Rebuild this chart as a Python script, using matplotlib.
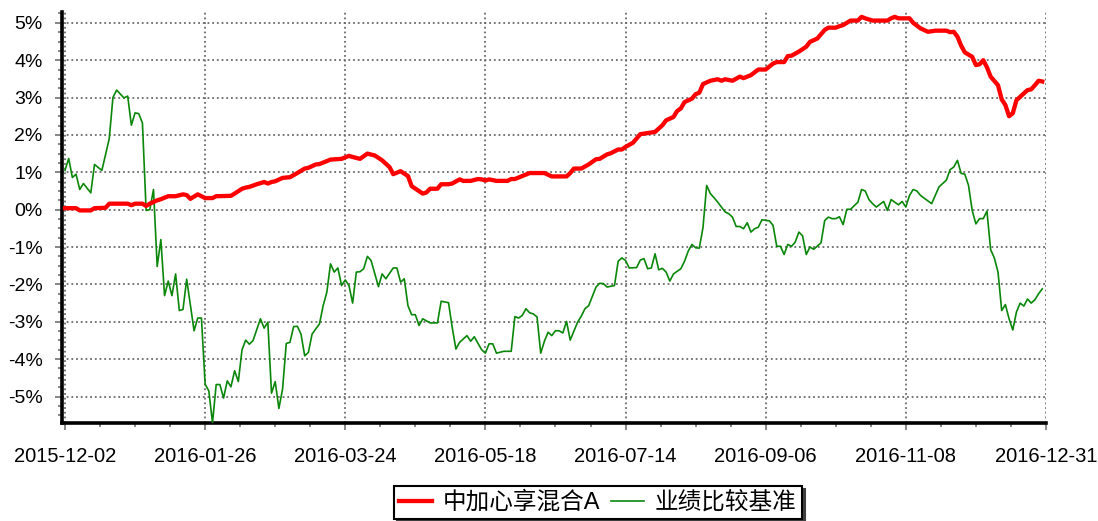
import numpy as np
import matplotlib
matplotlib.use("Agg")
import matplotlib.pyplot as plt
from matplotlib.ticker import FixedLocator, MultipleLocator, FuncFormatter

plt.rcParams["font.family"] = ["Liberation Sans", "Noto Sans CJK SC", "DejaVu Sans"]

# x axis is trading-day index, labels sit at evenly spaced trading days
tick_labels = ["2015-12-02", "2016-01-26", "2016-03-24", "2016-05-18",
               "2016-07-14", "2016-09-06", "2016-11-08", "2016-12-31"]
n_days = 267

fund_name = "中加心享混合A"
bench_name = "业绩比较基准"

# fund cumulative return (%)
fund_days = [0, 3, 4, 7, 8, 11, 12, 17, 18, 19, 21, 22, 23, 25, 26, 28, 30, 32, 33, 34,
             36, 38, 40, 41, 45, 46, 48, 49, 50, 52, 54, 55, 56, 57, 59, 61, 63, 65, 66, 68,
             69, 72, 75, 77, 78, 80, 82, 84, 86, 88, 89, 91, 93, 94, 97, 98, 99, 101, 102, 104,
             105, 107, 108, 110, 112, 113, 114, 115, 117, 120, 121, 122, 126, 130, 132, 136, 137, 138, 140, 142,
             144, 145, 147, 148, 150, 151, 152, 154, 156, 158, 160, 162, 163, 165, 166, 167, 168, 170, 171, 172,
             173, 175, 177, 178, 179, 181, 183, 184, 186, 188, 190, 192, 193, 195, 196, 197, 199, 201, 202, 204,
             206, 207, 209, 210, 211, 213, 215, 216, 217, 219, 223, 224, 225, 226, 229, 230, 232, 234, 236, 239,
             240, 241, 242, 243, 244, 246, 247, 248, 249, 250, 251, 253, 254, 255, 256, 257, 258, 260, 261, 262,
             263, 264, 265]
fund_ret = [0.04, 0.04, -0.02, -0.02, 0.04, 0.05, 0.16, 0.16, 0.12, 0.16, 0.16, 0.10, 0.16, 0.25, 0.28, 0.36, 0.36, 0.41, 0.39, 0.29,
            0.41, 0.31, 0.31, 0.36, 0.37, 0.43, 0.56, 0.59, 0.61, 0.68, 0.74, 0.70, 0.74, 0.76, 0.85, 0.87, 0.98, 1.10, 1.12, 1.21,
            1.22, 1.34, 1.36, 1.44, 1.41, 1.36, 1.50, 1.45, 1.32, 1.14, 0.95, 1.03, 0.90, 0.63, 0.43, 0.46, 0.56, 0.56, 0.68, 0.68,
            0.70, 0.81, 0.77, 0.77, 0.82, 0.81, 0.78, 0.81, 0.77, 0.77, 0.82, 0.82, 0.98, 0.98, 0.89, 0.89, 0.98, 1.10, 1.10, 1.21,
            1.35, 1.36, 1.48, 1.51, 1.61, 1.61, 1.68, 1.79, 2.02, 2.05, 2.08, 2.26, 2.39, 2.48, 2.64, 2.71, 2.88, 2.97, 3.09, 3.13,
            3.36, 3.45, 3.49, 3.45, 3.49, 3.45, 3.56, 3.52, 3.60, 3.75, 3.75, 3.91, 3.95, 3.95, 4.11, 4.12, 4.23, 4.36, 4.49, 4.58,
            4.81, 4.87, 4.87, 4.91, 4.94, 5.06, 5.06, 5.16, 5.12, 5.06, 5.06, 5.12, 5.16, 5.12, 5.12, 5.00, 4.85, 4.76, 4.79, 4.79,
            4.75, 4.76, 4.63, 4.39, 4.21, 4.09, 3.87, 3.89, 4.00, 3.81, 3.56, 3.33, 2.95, 2.80, 2.50, 2.58, 2.93, 3.11, 3.20, 3.22,
            3.33, 3.45, 3.43]

# benchmark cumulative return (%)
bench_days = [0, 1, 2, 3, 4, 5, 7, 8, 10, 12, 13, 14, 16, 17, 18, 19, 20, 21, 22, 23,
              24, 25, 26, 27, 28, 29, 30, 31, 32, 33, 35, 36, 37, 38, 39, 40, 41, 42, 43, 44,
              45, 46, 47, 48, 49, 50, 51, 53, 54, 55, 56, 57, 58, 59, 60, 61, 62, 63, 64, 65,
              66, 67, 68, 69, 70, 71, 72, 73, 74, 75, 76, 77, 78, 79, 80, 81, 82, 83, 85, 86,
              87, 89, 90, 91, 92, 93, 94, 95, 96, 97, 99, 101, 102, 104, 105, 106, 107, 109, 110, 111,
              112, 113, 114, 115, 116, 117, 119, 121, 122, 123, 124, 125, 126, 127, 128, 129, 130, 131, 132, 133,
              134, 135, 136, 137, 139, 140, 141, 142, 144, 145, 146, 147, 149, 150, 151, 152, 153, 155, 156, 157,
              158, 159, 160, 161, 162, 163, 164, 165, 167, 168, 169, 170, 171, 172, 173, 174, 175, 176, 177, 179,
              180, 181, 182, 183, 184, 185, 186, 187, 188, 189, 191, 192, 193, 194, 195, 196, 197, 198, 199, 200,
              201, 202, 203, 205, 206, 207, 208, 209, 210, 211, 212, 213, 215, 216, 217, 218, 219, 220, 222, 223,
              224, 226, 227, 228, 229, 230, 231, 232, 235, 237, 239, 240, 241, 242, 243, 244, 245, 246, 247, 248,
              249, 250, 251, 252, 253, 254, 255, 256, 257, 258, 259, 260, 261, 262, 263, 264, 265]
bench_ret = [1.05, 1.37, 0.86, 0.95, 0.54, 0.70, 0.45, 1.21, 1.05, 1.90, 3.00, 3.20, 2.99, 3.04, 2.26, 2.59, 2.57, 2.32, -0.02, 0.00,
             0.54, -1.52, -0.80, -2.30, -1.91, -2.30, -1.72, -2.70, -2.67, -1.86, -3.24, -2.90, -2.90, -4.67, -4.85, -5.70, -4.68, -4.68, -5.04, -4.58,
             -4.74, -4.31, -4.60, -3.75, -3.49, -3.60, -3.50, -2.92, -3.17, -3.01, -4.91, -4.60, -5.32, -4.80, -3.58, -3.55, -3.13, -3.12, -3.33, -3.91,
             -3.82, -3.33, -3.19, -3.06, -2.57, -2.21, -1.45, -1.67, -1.56, -2.03, -1.88, -2.03, -2.50, -1.67, -1.66, -1.58, -1.25, -1.36, -2.06, -1.72,
             -1.85, -1.56, -1.56, -1.94, -1.85, -2.57, -2.81, -2.81, -3.10, -2.92, -3.03, -3.03, -2.45, -2.49, -3.15, -3.73, -3.55, -3.37, -3.52, -3.40,
             -3.58, -3.75, -3.84, -3.59, -3.59, -3.84, -3.79, -3.79, -2.86, -2.90, -2.83, -2.65, -2.76, -2.79, -2.87, -3.84, -3.52, -3.28, -3.37, -3.24,
             -3.24, -3.30, -2.99, -3.49, -3.01, -2.85, -2.65, -2.57, -2.07, -1.97, -1.98, -2.07, -2.03, -1.38, -1.29, -1.36, -1.56, -1.55, -1.35, -1.31,
             -1.58, -1.56, -1.18, -1.61, -1.57, -1.67, -1.91, -1.72, -1.58, -1.38, -1.11, -0.93, -1.02, -1.03, -0.48, 0.65, 0.43, 0.32, 0.20, -0.06,
             -0.11, -0.20, -0.45, -0.45, -0.51, -0.35, -0.60, -0.51, -0.47, -0.27, -0.30, -0.42, -0.98, -0.98, -1.20, -0.93, -0.98, -0.87, -0.60, -0.70,
             -1.20, -1.00, -1.06, -0.89, -0.29, -0.20, -0.24, -0.24, -0.19, -0.40, 0.01, 0.01, 0.20, 0.54, 0.50, 0.27, 0.16, 0.07, 0.22, -0.02,
             0.27, 0.13, 0.22, 0.07, 0.38, 0.54, 0.50, 0.38, 0.16, 0.61, 0.79, 1.07, 1.14, 1.32, 0.97, 0.95, 0.65, -0.02, -0.38, -0.24,
             -0.24, -0.04, -1.07, -1.29, -1.67, -2.70, -2.54, -2.92, -3.22, -2.74, -2.50, -2.58, -2.39, -2.50, -2.41, -2.25, -2.12]

fig = plt.figure(figsize=(10.98, 5.21), dpi=100)
ax = fig.add_axes([0.0565, 0.188, 0.8961, 0.789])

ax.plot(bench_days, bench_ret, color="#0a870a", lw=1.2, zorder=3)
ax.plot(fund_days, fund_ret, color="#ff0000", lw=3.1, zorder=4)

step = (n_days - 1) / (len(tick_labels) - 1)
ax.set_xlim(-0.8, n_days - 1)
ax.set_ylim(-5.71, 5.29)

ax.xaxis.set_major_locator(FixedLocator([i * step for i in range(len(tick_labels))]))
ax.xaxis.set_minor_locator(MultipleLocator(step / 4))
ax.set_xticklabels(tick_labels)
ax.yaxis.set_major_locator(MultipleLocator(1))
ax.yaxis.set_minor_locator(MultipleLocator(0.25))
ax.yaxis.set_major_formatter(FuncFormatter(lambda v, p: "%d%%" % round(v)))

ax.tick_params(axis="both", which="major", labelsize=14, color="0.45", length=5, width=1.2)
ax.tick_params(axis="x", which="major", labelsize=14.5, pad=12)
ax.tick_params(axis="both", which="minor", color="0.45", length=3, width=1.2)
ax.tick_params(axis="y", which="major", pad=9)

ax.grid(True, which="major", color="0.42", linestyle=(0, (1, 1.6)), linewidth=1.3)
ax.set_axisbelow(True)

for s in ["top", "right"]:
    ax.spines[s].set_visible(False)
for s in ["left", "bottom"]:
    ax.spines[s].set_linewidth(2.6)
    ax.spines[s].set_color("black")

handles = ax.get_lines()
leg = fig.legend([handles[1], handles[0]], [fund_name, bench_name],
                 loc="center", bbox_to_anchor=(598 / 1098, 1 - 502.5 / 521),
                 ncol=2, fontsize=17, frameon=True, fancybox=False,
                 shadow={"color": "0.25", "alpha": 1}, edgecolor="black",
                 handlelength=1.4, handletextpad=0.45, columnspacing=0.45,
                 borderpad=0.22)
leg.get_frame().set_linewidth(1.5)

fig.savefig("out.png", dpi=100)
